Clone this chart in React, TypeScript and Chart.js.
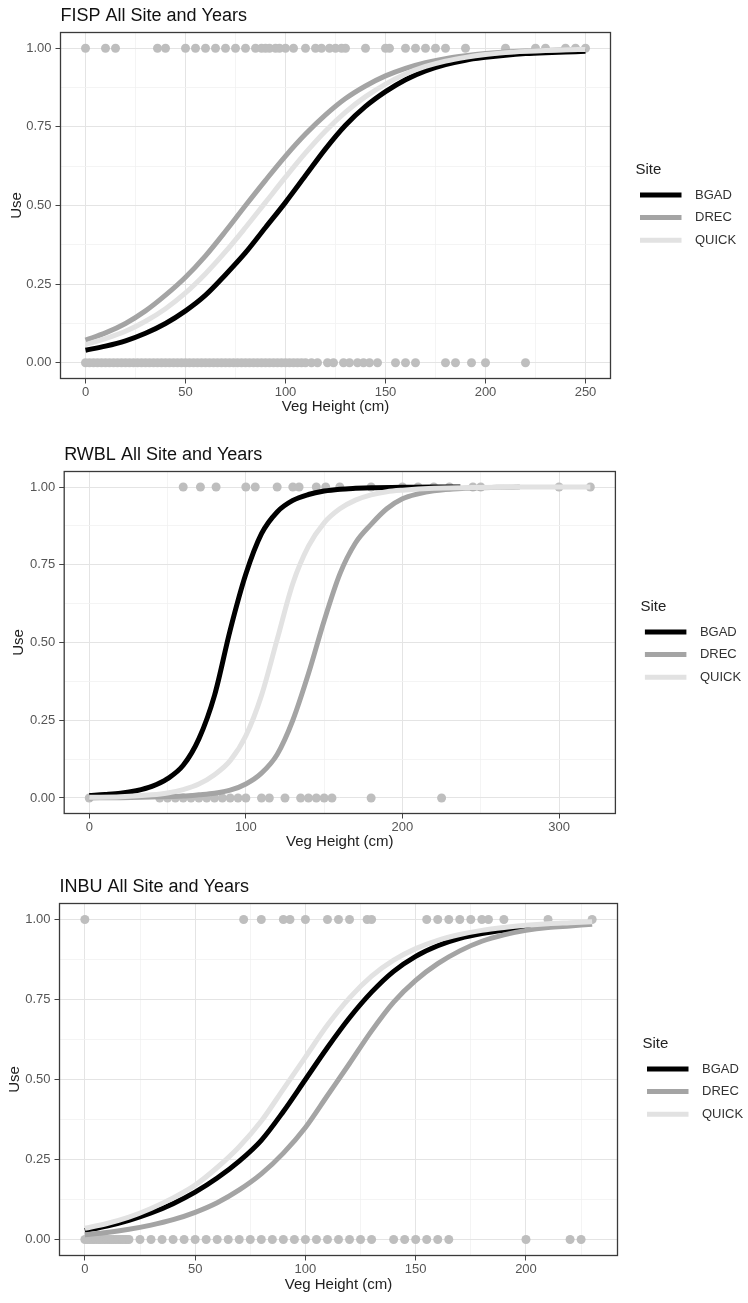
import React, { useEffect, useRef } from "react";
import { Chart, registerables } from "chart.js";

Chart.register(...registerables);

// ---------- shared ----------
const SITES = ["BGAD", "DREC", "QUICK"];
const SITE_COLORS = ["#000000", "#A4A4A4", "#E2E2E2"];
const POINT_COLOR = "#BEBEBE";
const Y_TICKS = [0, 0.25, 0.5, 0.75, 1];

// ---------- FISP ----------
const FISP_X_TICKS = [0, 50, 100, 150, 200, 250];
const FISP_CURVE_X = [0, 10, 20, 30, 40, 50, 60, 70, 80, 90, 100, 110, 120, 130, 140, 150, 160, 170, 180, 190, 200, 210, 220, 230, 240, 250];
const FISP_BGAD = [0.04, 0.053, 0.07, 0.094, 0.125, 0.165, 0.215, 0.28, 0.35, 0.43, 0.51, 0.595, 0.68, 0.755, 0.815, 0.862, 0.9, 0.928, 0.948, 0.962, 0.971, 0.978, 0.983, 0.986, 0.988, 0.99];
const FISP_DREC = [0.072, 0.095, 0.125, 0.165, 0.215, 0.272, 0.34, 0.418, 0.5, 0.58, 0.657, 0.727, 0.788, 0.84, 0.88, 0.912, 0.936, 0.954, 0.967, 0.976, 0.983, 0.988, 0.991, 0.993, 0.995, 0.996];
const FISP_QUICK = [0.058, 0.077, 0.1, 0.132, 0.172, 0.222, 0.283, 0.353, 0.43, 0.51, 0.59, 0.667, 0.737, 0.797, 0.846, 0.886, 0.918, 0.942, 0.959, 0.971, 0.98, 0.986, 0.99, 0.993, 0.995, 0.996];
const FISP_USED = [0, 10, 15, 36, 40, 50, 55, 60, 65, 70, 75, 80, 85, 88, 90, 92, 95, 97, 100, 104, 110, 115, 118, 122, 125, 128, 130, 140, 150, 152, 160, 165, 170, 175, 180, 190, 210, 225, 230, 240, 245, 250];
const FISP_UNUSED = [0, 2, 4, 6, 8, 10, 12, 14, 16, 18, 20, 22, 24, 26, 28, 30, 32, 34, 36, 38, 40, 42, 44, 46, 48, 50, 52, 54, 56, 58, 60, 62, 64, 66, 68, 70, 72, 74, 76, 78, 80, 82, 84, 86, 88, 90, 92, 94, 96, 98, 100, 102, 104, 106, 108, 110, 113, 116, 121, 124, 129, 132, 136, 139, 142, 146, 155, 160, 165, 180, 185, 193, 200, 220];

// ---------- RWBL ----------
const RWBL_X_TICKS = [0, 100, 200, 300];
const RWBL_BGAD_X = [0, 10, 20, 30, 40, 50, 60, 70, 80, 90, 100, 110, 120, 130, 140, 150, 160, 170, 180, 200, 220, 237];
const RWBL_BGAD = [0.008, 0.011, 0.015, 0.023, 0.037, 0.062, 0.105, 0.19, 0.33, 0.54, 0.72, 0.85, 0.92, 0.957, 0.976, 0.987, 0.993, 0.996, 0.998, 0.999, 1.0, 1.0];
const RWBL_DREC_X = [0, 20, 40, 60, 70, 80, 90, 100, 110, 120, 130, 140, 150, 160, 170, 180, 190, 200, 210, 220, 240, 260, 275];
const RWBL_DREC = [0.0, 0.001, 0.003, 0.006, 0.01, 0.015, 0.025, 0.045, 0.08, 0.14, 0.25, 0.4, 0.57, 0.72, 0.82, 0.88, 0.93, 0.962, 0.978, 0.988, 0.996, 0.999, 1.0];
const RWBL_QUICK_X = [0, 20, 40, 50, 60, 70, 80, 90, 100, 110, 120, 130, 140, 150, 160, 170, 180, 190, 200, 220, 240, 275, 320];
const RWBL_QUICK = [0.002, 0.004, 0.01, 0.016, 0.027, 0.045, 0.075, 0.12, 0.2, 0.33, 0.51, 0.69, 0.81, 0.885, 0.93, 0.958, 0.975, 0.985, 0.99, 0.996, 0.998, 1.0, 1.0];
const RWBL_USED = [60, 71, 81, 100, 106, 120, 130, 134, 145, 151, 160, 180, 200, 210, 220, 230, 245, 250, 300, 320];
const RWBL_UNUSED = [0, 45, 50, 55, 60, 65, 70, 75, 80, 85, 90, 95, 100, 110, 115, 125, 135, 140, 145, 150, 155, 180, 225];

// ---------- INBU ----------
const INBU_X_TICKS = [0, 50, 100, 150, 200];
const INBU_BGAD_X = [0, 10, 20, 30, 40, 50, 60, 70, 80, 90, 100, 110, 120, 130, 140, 150, 160, 170, 180, 190, 200, 209];
const INBU_BGAD = [0.028, 0.042, 0.06, 0.083, 0.112, 0.148, 0.192, 0.245, 0.31, 0.4, 0.5, 0.6, 0.693, 0.773, 0.838, 0.885, 0.918, 0.941, 0.956, 0.966, 0.973, 0.978];
const INBU_CURVE_X = [0, 10, 20, 30, 40, 50, 60, 70, 80, 90, 100, 110, 120, 130, 140, 150, 160, 170, 180, 190, 200, 210, 220, 230];
const INBU_DREC = [0.015, 0.022, 0.032, 0.045, 0.062, 0.085, 0.115, 0.155, 0.205, 0.27, 0.35, 0.45, 0.55, 0.652, 0.742, 0.81, 0.862, 0.902, 0.932, 0.952, 0.966, 0.975, 0.98, 0.985];
const INBU_QUICK = [0.035, 0.05, 0.07, 0.097, 0.13, 0.17, 0.225, 0.29, 0.37, 0.47, 0.57, 0.67, 0.755, 0.823, 0.873, 0.909, 0.935, 0.953, 0.966, 0.975, 0.982, 0.987, 0.99, 0.993];
const INBU_USED = [0, 72, 80, 90, 93, 100, 110, 115, 120, 128, 130, 155, 160, 165, 170, 175, 180, 183, 190, 210, 230];
const INBU_UNUSED = [0, 1, 2, 3, 4, 5, 6, 7, 8, 9, 10, 11, 12, 13, 14, 15, 16, 17, 18, 19, 20, 25, 30, 35, 40, 45, 50, 55, 60, 65, 70, 75, 80, 85, 90, 95, 100, 105, 110, 115, 120, 125, 130, 140, 145, 150, 155, 160, 165, 200, 220, 225];

const FONT = "'Liberation Sans', Arial, Helvetica, sans-serif";

type Curve = { x: number[]; y: number[] };
type PanelSpec = {
  title: string;
  top: number;
  height: number;
  xMin: number;
  xMax: number;
  xTicks: number[];
  curves: Curve[];
  used: number[];
  unused: number[];
  padLeft: number;
  yAxisWidth: number;
  padRight: number;
  padTop: number;
  xAxisHeight: number;
  padBottom: number;
  titleY: number;
};

const PANELS: PanelSpec[] = [
  {
    title: "FISP All Site and Years",
    top: 0, height: 420,
    xMin: -12.5, xMax: 262.5, xTicks: FISP_X_TICKS,
    curves: [
      { x: FISP_CURVE_X, y: FISP_BGAD },
      { x: FISP_CURVE_X, y: FISP_DREC },
      { x: FISP_CURVE_X, y: FISP_QUICK },
    ],
    used: FISP_USED, unused: FISP_UNUSED,
    padLeft: 8, yAxisWidth: 52.5, padRight: 137.5, padTop: 32.5, xAxisHeight: 37.5, padBottom: 4,
    titleY: 16,
  },
  {
    title: "RWBL All Site and Years",
    top: 420, height: 440,
    xMin: -16, xMax: 336, xTicks: RWBL_X_TICKS,
    curves: [
      { x: RWBL_BGAD_X, y: RWBL_BGAD },
      { x: RWBL_DREC_X, y: RWBL_DREC },
      { x: RWBL_QUICK_X, y: RWBL_QUICK },
    ],
    used: RWBL_USED, unused: RWBL_UNUSED,
    padLeft: 10, yAxisWidth: 54.2, padRight: 132.6, padTop: 51.5, xAxisHeight: 37.5, padBottom: 9,
    titleY: 35,
  },
  {
    title: "INBU All Site and Years",
    top: 860, height: 443,
    xMin: -11.5, xMax: 241.5, xTicks: INBU_X_TICKS,
    curves: [
      { x: INBU_BGAD_X, y: INBU_BGAD },
      { x: INBU_CURVE_X, y: INBU_DREC },
      { x: INBU_CURVE_X, y: INBU_QUICK },
    ],
    used: INBU_USED, unused: INBU_UNUSED,
    padLeft: 6, yAxisWidth: 53.5, padRight: 130.5, padTop: 43.5, xAxisHeight: 38.5, padBottom: 9,
    titleY: 27,
  },
];

function minorBreaks(majors: number[], min: number, max: number): number[] {
  const step = majors[1] - majors[0];
  const out: number[] = [];
  for (let i = -1; i < majors.length; i++) {
    const v = majors[0] + step * i + step / 2;
    if (v >= min && v <= max) out.push(v);
  }
  return out;
}

const isIn = (v: number, arr: number[]) => arr.some((a) => Math.abs(a - v) < 1e-9);

const decorPlugin = {
  id: "panelDecor",
  afterDatasetsDraw(chart: any) {
    const { ctx, chartArea: a } = chart;
    ctx.save();
    ctx.strokeStyle = "#3a3a3a";
    ctx.lineWidth = 1.3;
    ctx.strokeRect(a.left, a.top, a.right - a.left, a.bottom - a.top);
    ctx.restore();
  },
  afterDraw(chart: any, _args: any, opts: any) {
    const { ctx, chartArea: a } = chart;
    ctx.save();
    // title
    ctx.fillStyle = "#111111";
    ctx.font = `18px ${FONT}`;
    ctx.textAlign = "left";
    ctx.textBaseline = "middle";
    ctx.fillText(opts.title, a.left, opts.titleY);
    // legend
    const cy = (a.top + a.bottom) / 2;
    const x0 = a.right;
    ctx.font = `15px ${FONT}`;
    ctx.fillStyle = "#222222";
    ctx.fillText("Site", x0 + 25, cy - 36);
    ctx.font = `13px ${FONT}`;
    SITES.forEach((s, i) => {
      const y = cy - 10.5 + i * 22.6;
      ctx.strokeStyle = SITE_COLORS[i];
      ctx.lineWidth = 5;
      ctx.beginPath();
      ctx.moveTo(x0 + 29.5, y);
      ctx.lineTo(x0 + 71, y);
      ctx.stroke();
      ctx.fillStyle = "#333333";
      ctx.fillText(s, x0 + 84.5, y);
    });
    ctx.restore();
  },
};

function Panel({ spec }: { spec: PanelSpec }) {
  const ref = useRef<HTMLCanvasElement | null>(null);
  useEffect(() => {
    if (!ref.current) return;
    const xMinor = minorBreaks(spec.xTicks, spec.xMin, spec.xMax);
    const yMinor = minorBreaks(Y_TICKS, -0.05, 1.05);
    const lineSets = SITES.map((s, i) => ({
      label: s,
      data: spec.curves[i].x.map((x, j) => ({ x, y: spec.curves[i].y[j] })),
      showLine: true,
      borderColor: SITE_COLORS[i],
      backgroundColor: SITE_COLORS[i],
      borderWidth: 5,
      pointRadius: 0,
      pointHoverRadius: 0,
      cubicInterpolationMode: "monotone",
      fill: false,
      order: i === 2 ? 0 : i === 1 ? 1 : 2,
    }));
    const pointSets = [
      { label: "used", data: spec.used.map((x) => ({ x, y: 1 })) },
      { label: "unused", data: spec.unused.map((x) => ({ x, y: 0 })) },
    ].map((d) => ({
      ...d,
      showLine: false,
      pointRadius: 4.5,
      pointHoverRadius: 4.5,
      pointBorderWidth: 0,
      pointBackgroundColor: POINT_COLOR,
      backgroundColor: POINT_COLOR,
      borderColor: POINT_COLOR,
      order: 5,
    }));
    const gridColor = (c: any, majors: number[]) =>
      c.tick && isIn(c.tick.value, majors) ? "#E4E4E4" : "#F1F1F1";
    const chart = new Chart(ref.current, {
      type: "scatter",
      data: { datasets: [...lineSets, ...pointSets] as any },
      plugins: [decorPlugin as any],
      options: {
        animation: false,
        responsive: false,
        devicePixelRatio: 1,
        events: [],
        layout: {
          padding: { left: spec.padLeft, right: spec.padRight, top: spec.padTop, bottom: spec.padBottom },
        },
        plugins: {
          legend: { display: false },
          tooltip: { enabled: false },
          panelDecor: { title: spec.title, titleY: spec.titleY },
        } as any,
        scales: {
          x: {
            type: "linear",
            min: spec.xMin,
            max: spec.xMax,
            border: { display: false },
            afterBuildTicks: (scale: any) => {
              scale.ticks = [...spec.xTicks, ...xMinor].sort((a, b) => a - b).map((v) => ({ value: v }));
            },
            afterFit: (scale: any) => {
              scale.height = spec.xAxisHeight;
            },
            ticks: {
              autoSkip: false,
              maxRotation: 0,
              minRotation: 0,
              padding: 1,
              color: "#555555",
              font: { size: 13, family: FONT },
              callback: (v: any) => (isIn(Number(v), spec.xTicks) ? String(v) : ""),
            },
            grid: {
              color: (c: any) => gridColor(c, spec.xTicks),
              lineWidth: (c: any) => (c.tick && isIn(c.tick.value, spec.xTicks) ? 1 : 0.8),
              tickLength: 5,
              tickColor: (c: any) => (c.tick && isIn(c.tick.value, spec.xTicks) ? "#444444" : "rgba(0,0,0,0)"),
              tickWidth: 1,
            },
            title: {
              display: true,
              text: "Veg Height (cm)",
              color: "#222222",
              font: { size: 15, family: FONT, lineHeight: 1.2 },
              padding: { top: 0, bottom: 0 },
            },
          },
          y: {
            type: "linear",
            min: -0.05,
            max: 1.05,
            border: { display: false },
            afterBuildTicks: (scale: any) => {
              scale.ticks = [...Y_TICKS, ...yMinor].sort((a, b) => a - b).map((v) => ({ value: v }));
            },
            afterFit: (scale: any) => {
              scale.width = spec.yAxisWidth;
            },
            ticks: {
              autoSkip: false,
              padding: 4,
              color: "#555555",
              font: { size: 13, family: FONT },
              callback: (v: any) => (isIn(Number(v), Y_TICKS) ? Number(v).toFixed(2) : ""),
            },
            grid: {
              color: (c: any) => gridColor(c, Y_TICKS),
              lineWidth: (c: any) => (c.tick && isIn(c.tick.value, Y_TICKS) ? 1 : 0.8),
              tickLength: 5,
              tickColor: (c: any) => (c.tick && isIn(c.tick.value, Y_TICKS) ? "#444444" : "rgba(0,0,0,0)"),
              tickWidth: 1,
            },
            title: {
              display: true,
              text: "Use",
              color: "#222222",
              font: { size: 15, family: FONT, lineHeight: 1.2 },
              padding: { top: 0, bottom: 0 },
            },
          },
        },
      },
    });
    return () => chart.destroy();
  }, [spec]);
  return (
    <div style={{ position: "absolute", left: 0, top: spec.top, width: 748, height: spec.height }}>
      <canvas ref={ref} width={748} height={spec.height} style={{ display: "block", width: 748, height: spec.height }} />
    </div>
  );
}

export default function App() {
  useEffect(() => {
    document.body.style.margin = "0";
    document.body.style.background = "#ffffff";
  }, []);
  return (
    <div style={{ position: "absolute", left: 0, top: 0, width: 748, height: 1303, background: "#ffffff" }}>
      {PANELS.map((p) => (
        <Panel key={p.title} spec={p} />
      ))}
    </div>
  );
}
